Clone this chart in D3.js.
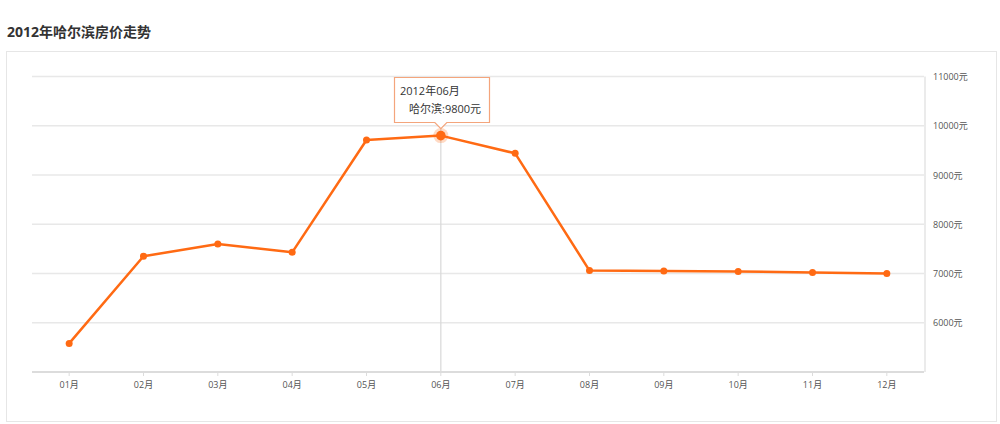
<!DOCTYPE html>
<html><head><meta charset="utf-8">
<script src="https://cdn.jsdelivr.net/npm/d3@7"></script>
<style>
html,body{margin:0;background:#fff;font-family:"Open Sans","Noto Sans CJK SC",sans-serif;overflow:hidden;}
svg{display:block;}
</style></head>
<body>
<svg id="c" width="1000" height="424"></svg>
<script>
const title = "2012年哈尔滨房价走势";
const months = ["01月","02月","03月","04月","05月","06月","07月","08月","09月","10月","11月","12月"];
const prices = [5580,7350,7600,7430,9710,9800,9440,7060,7050,7040,7020,7000];
const yTicks = [6000,7000,8000,9000,10000,11000];
const seriesName = "哈尔滨";
const hoverIndex = 5;

(function(){
const svg = d3.select("#c");
const font = "'Open Sans','Noto Sans CJK SC',sans-serif";

svg.append("text").attr("x",7).attr("y",37).text(title)
  .attr("font-size",14).attr("font-weight","bold").attr("fill","#333")
  .attr("font-family",font);

svg.append("rect").attr("x",6.5).attr("y",51.5).attr("width",990).attr("height",370)
  .attr("fill","#fff").attr("stroke","#e6e6e6");

const pL=32,pR=924,pT=76.5,pB=372;
const x = d3.scaleBand().domain(months).range([pL,pR]);
const cx = d => x(d)+x.bandwidth()/2;
const y = d3.scaleLinear().domain([5000,11000]).range([pB,pT]);

svg.append("g").selectAll("line").data(yTicks).join("line")
  .attr("x1",pL).attr("x2",pR).attr("y1",d=>y(d)).attr("y2",d=>y(d))
  .attr("stroke","#e8e8e8").attr("stroke-width",1.5);

svg.append("line").attr("x1",pR+1).attr("x2",pR+1).attr("y1",pT).attr("y2",pB)
  .attr("stroke","#e4e4e4").attr("stroke-width",1.5);

svg.append("g").selectAll("text").data(yTicks).join("text")
  .attr("x",933).attr("y",d=>y(d)+3.5).text(d=>d+"元")
  .attr("font-size",9).attr("fill","#555").attr("font-family",font);

svg.append("line").attr("x1",cx(months[hoverIndex])).attr("x2",cx(months[hoverIndex]))
  .attr("y1",pT+50).attr("y2",pB).attr("stroke","#d8d8d8").attr("stroke-width",1.2);

svg.append("line").attr("x1",pL).attr("x2",pR).attr("y1",pB).attr("y2",pB)
  .attr("stroke","#dcdcdc").attr("stroke-width",2);
svg.append("g").selectAll("line").data(months).join("line")
  .attr("x1",d=>cx(d)).attr("x2",d=>cx(d)).attr("y1",pB).attr("y2",pB+4)
  .attr("stroke","#dcdcdc").attr("stroke-width",1);
svg.append("g").selectAll("text").data(months).join("text")
  .attr("x",d=>cx(d)).attr("y",pB+16).attr("text-anchor","middle").text(d=>d)
  .attr("font-size",9).attr("fill","#555").attr("font-family",font);

const line = d3.line().x((d,i)=>cx(months[i])).y(d=>y(d));
svg.append("path").datum(prices).attr("d",line).attr("fill","none")
  .attr("stroke","#ff6a13").attr("stroke-width",2.5).attr("stroke-linejoin","round");

svg.append("g").selectAll("circle").data(prices).join("circle")
  .attr("cx",(d,i)=>cx(months[i])).attr("cy",d=>y(d)).attr("r",(d,i)=>i===hoverIndex?0:3.5)
  .attr("fill","#ff6a13");

const hx = cx(months[hoverIndex]), hy = y(prices[hoverIndex]);
svg.append("circle").attr("cx",hx).attr("cy",hy).attr("r",7.5).attr("fill","#ff6a13").attr("opacity",0.25);
svg.append("circle").attr("cx",hx).attr("cy",hy).attr("r",4.8).attr("fill","#ff6a13");

const tx0=394.5, tx1=489.5, ty0=77.5, ty1=122.5, tip=hy-7;
const tp = `M${tx0},${ty0} H${tx1} V${ty1} H${hx+6} L${hx},${tip} L${hx-6},${ty1} H${tx0} Z`;
svg.append("path").attr("d",tp).attr("fill","#fff").attr("stroke","#f4a57c").attr("stroke-width",1.2);
svg.append("text").attr("x",400).attr("y",95).text("2012年"+months[hoverIndex])
  .attr("font-size",11).attr("fill","#333").attr("font-family",font);
svg.append("text").attr("x",409).attr("y",113).text(seriesName+":"+prices[hoverIndex]+"元")
  .attr("font-size",11).attr("fill","#333").attr("font-family",font);
})();
</script>
</body></html>
